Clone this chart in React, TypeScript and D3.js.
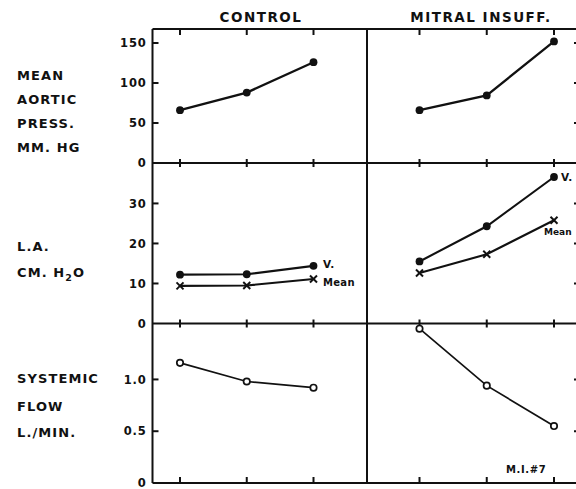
import React from "react";
import * as d3 from "d3";

const groups = ["CONTROL", "MITRAL INSUFF."];
const stages = [0, 1, 2];

const aorticControl = [66, 88, 126];
const aorticMitral = [66, 84.5, 152];
const laVControl = [12.2, 12.3, 14.4];
const laMeanControl = [9.4, 9.5, 11.1];
const laVMitral = [15.5, 24.3, 36.6];
const laMeanMitral = [12.6, 17.3, 25.8];
const flowControl = [1.16, 0.98, 0.92];
const flowMitral = [1.49, 0.94, 0.55];

const aorticTicks = [0, 50, 100, 150];
const laTicks = [0, 10, 20, 30];
const flowTicks = [0, 0.5, 1.0];
const flowTickLabels = ["0", "0.5", "1.0"];

const W = 576;
const H = 489;
const axisX = 152.5;
const divX = 367;
const rightX = 579;
const rows = [29, 163, 323.5, 483];

const FONT = "'DejaVu Sans', 'Liberation Sans', sans-serif";

export default function App() {
  const xL = d3.scaleLinear().domain([0, 2]).range([180, 313.5]);
  const xR = d3.scaleLinear().domain([0, 2]).range([419.5, 554]);

  const yTop = d3.scaleLinear().domain([0, 167.5]).range([rows[1], rows[0]]);
  const yMid = d3.scaleLinear().domain([0, 40.1]).range([rows[2], rows[1]]);
  const yBot = d3.scaleLinear().domain([0, 1.54]).range([rows[3], rows[2]]);

  const mkLine = (x: any, y: any) =>
    d3
      .line<number>()
      .x((_, i) => x(stages[i]))
      .y((d) => y(d));

  const series = [
    { vals: aorticControl, x: xL, y: yTop, marker: "dot", sw: 2.3 },
    { vals: aorticMitral, x: xR, y: yTop, marker: "dot", sw: 2.3 },
    { vals: laVControl, x: xL, y: yMid, marker: "dot", sw: 2.1 },
    { vals: laMeanControl, x: xL, y: yMid, marker: "cross", sw: 2.1 },
    { vals: laVMitral, x: xR, y: yMid, marker: "dot", sw: 2.1 },
    { vals: laMeanMitral, x: xR, y: yMid, marker: "cross", sw: 2.1 },
    { vals: flowControl, x: xL, y: yBot, marker: "open", sw: 1.7 },
    { vals: flowMitral, x: xR, y: yBot, marker: "open", sw: 1.7 },
  ];

  const yAxes = [
    { scale: yTop, ticks: aorticTicks, labels: aorticTicks.map(String) },
    { scale: yMid, ticks: laTicks, labels: laTicks.map(String) },
    { scale: yBot, ticks: flowTicks, labels: flowTickLabels },
  ];

  const tickXs = [...stages.map((s) => xL(s)), ...stages.map((s) => xR(s))];

  const labelStyle: any = {
    fontFamily: FONT,
    fontWeight: "bold",
    fontSize: 13,
    letterSpacing: 1.1,
    fill: "#111",
  };

  const rowLabels = [
    { t: "MEAN", y: 80 },
    { t: "AORTIC", y: 104 },
    { t: "PRESS.", y: 128 },
    { t: "MM. HG", y: 152 },
    { t: "L.A.", y: 251 },
    { t: "SYSTEMIC", y: 383 },
    { t: "FLOW", y: 410.5 },
    { t: "L./MIN.", y: 437 },
  ];

  return (
    <svg
      width={W}
      height={H}
      style={{ position: "absolute", left: 0, top: 0, background: "#fff" }}
    >
      <rect x={0} y={0} width={W} height={H} fill="#fff" />
      {/* titles */}
      <text x={261} y={22} textAnchor="middle" style={{ ...labelStyle, fontSize: 13.5, letterSpacing: 1.5 }}>
        {groups[0]}
      </text>
      <text x={481} y={22} textAnchor="middle" style={{ ...labelStyle, fontSize: 13.5, letterSpacing: 1.5 }}>
        {groups[1]}
      </text>

      {/* row labels */}
      {rowLabels.map((r) => (
        <text key={r.t} x={17} y={r.y} style={labelStyle}>
          {r.t}
        </text>
      ))}
      <text x={17} y={277} style={labelStyle}>
        CM. H
        <tspan dy={4} fontSize={9.5}>2</tspan>
        <tspan dy={-4}>O</tspan>
      </text>

      {/* frame */}
      <g stroke="#111" strokeWidth={2} fill="none">
        {rows.map((y, i) => (
          <line key={i} x1={axisX} x2={rightX + 2} y1={y} y2={y} />
        ))}
        <line x1={axisX} x2={axisX} y1={rows[0]} y2={rows[3]} />
        <line x1={divX} x2={divX} y1={rows[0]} y2={rows[3]} />
        <line x1={rightX} x2={rightX} y1={rows[0]} y2={rows[3]} />
      </g>

      {/* x ticks */}
      <g stroke="#111" strokeWidth={2}>
        {rows.map((y, ri) =>
          tickXs.map((x, i) => {
            const y1 = ri === 0 ? y : ri === 3 ? y - 6 : y - 4;
            const y2 = ri === 0 ? y + 6 : ri === 3 ? y : y + 4;
            return <line key={ri + "-" + i} x1={x} x2={x} y1={y1} y2={y2} />;
          })
        )}
      </g>

      {/* y axes */}
      {yAxes.map((ax, ai) => (
        <g key={ai}>
          {ax.ticks.map((t, i) => (
            <g key={i}>
              {t !== 0 && (
                <>
                  <line x1={axisX} x2={axisX + 6} y1={ax.scale(t)} y2={ax.scale(t)} stroke="#111" strokeWidth={2} />
                  <line x1={rightX - 5} x2={rightX} y1={ax.scale(t)} y2={ax.scale(t)} stroke="#111" strokeWidth={2} />
                </>
              )}
              <text
                x={axisX - 6}
                y={ax.scale(t)}
                dy="0.36em"
                textAnchor="end"
                style={{ ...labelStyle, fontSize: 11.5, letterSpacing: 0.8 }}
              >
                {ax.labels[i]}
              </text>
            </g>
          ))}
        </g>
      ))}

      {/* data */}
      {series.map((s, si) => (
        <g key={si}>
          <path d={mkLine(s.x, s.y)(s.vals) || ""} fill="none" stroke="#111" strokeWidth={s.sw} />
          {s.vals.map((v, i) => {
            const cx = s.x(stages[i]);
            const cy = s.y(v);
            if (s.marker === "dot") return <circle key={i} cx={cx} cy={cy} r={3.9} fill="#111" />;
            if (s.marker === "open")
              return <circle key={i} cx={cx} cy={cy} r={3.2} fill="#fff" stroke="#111" strokeWidth={1.7} />;
            return (
              <g key={i} stroke="#111" strokeWidth={2}>
                <line x1={cx - 3.5} x2={cx + 3.5} y1={cy - 3.5} y2={cy + 3.5} />
                <line x1={cx - 3.5} x2={cx + 3.5} y1={cy + 3.5} y2={cy - 3.5} />
              </g>
            );
          })}
        </g>
      ))}

      {/* series labels */}
      <text x={323} y={268} style={{ ...labelStyle, fontSize: 10.5, letterSpacing: 0.5 }}>V.</text>
      <text x={323} y={286} style={{ ...labelStyle, fontSize: 10, letterSpacing: 0.3 }}>Mean</text>
      <text x={561} y={181} style={{ ...labelStyle, fontSize: 10.5, letterSpacing: 0.5 }}>V.</text>
      <text x={544} y={235} style={{ ...labelStyle, fontSize: 9, letterSpacing: 0 }}>Mean</text>
      <text x={506} y={473} style={{ ...labelStyle, fontSize: 10, letterSpacing: 0.6 }}>M.I.#7</text>
    </svg>
  );
}
